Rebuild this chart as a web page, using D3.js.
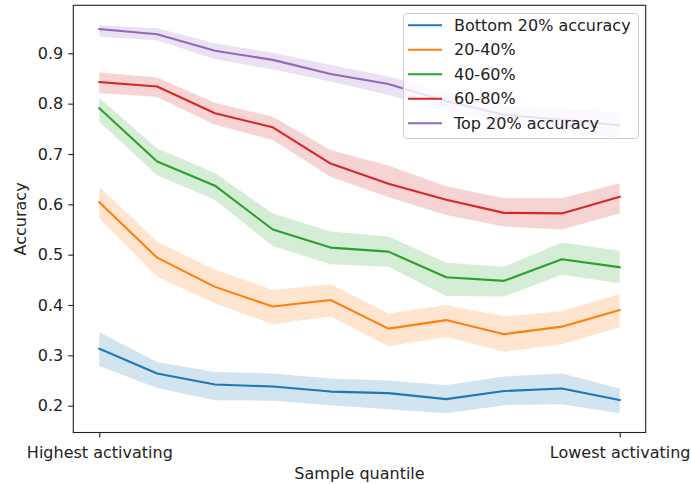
<!DOCTYPE html>
<html><head><meta charset="utf-8">
<script src="https://cdn.jsdelivr.net/npm/d3@7"></script>
<style>body{margin:0;background:#fff}text{font-family:"DejaVu Sans",sans-serif;fill:#222}</style>
</head><body>
<svg id="c" width="691" height="484"></svg>
<script>
const seriesLabels = ["Bottom 20% accuracy","20-40%","40-60%","60-80%","Top 20% accuracy"];
const colors = ["#1f77b4","#ff7f0e","#2ca02c","#d62728","#9467bd"];
const xTickLabels = ["Highest activating","Lowest activating"];
const yTicks = [0.2,0.3,0.4,0.5,0.6,0.7,0.8,0.9];

const bottomMean = [0.313,0.264,0.242,0.238,0.228,0.225,0.213,0.229,0.234,0.211];
const bottomLo   = [0.279,0.235,0.211,0.210,0.201,0.193,0.185,0.201,0.203,0.185];
const bottomHi   = [0.346,0.287,0.267,0.264,0.254,0.250,0.241,0.258,0.264,0.234];

const q2Mean = [0.604,0.494,0.436,0.397,0.410,0.353,0.370,0.342,0.357,0.390];
const q2Lo   = [0.572,0.456,0.403,0.362,0.377,0.318,0.337,0.307,0.322,0.356];
const q2Hi   = [0.635,0.526,0.470,0.430,0.441,0.383,0.400,0.377,0.388,0.422];

const q3Mean = [0.791,0.685,0.637,0.550,0.514,0.506,0.455,0.448,0.491,0.475];
const q3Lo   = [0.764,0.658,0.609,0.517,0.481,0.476,0.418,0.417,0.460,0.443];
const q3Hi   = [0.811,0.711,0.662,0.582,0.546,0.536,0.484,0.476,0.524,0.508];

const q4Mean = [0.843,0.834,0.781,0.753,0.681,0.641,0.609,0.583,0.582,0.615];
const q4Lo   = [0.821,0.813,0.758,0.728,0.655,0.614,0.579,0.556,0.550,0.582];
const q4Hi   = [0.862,0.852,0.802,0.774,0.708,0.677,0.636,0.612,0.612,0.642];

const topMean = [0.948,0.938,0.905,0.887,0.859,0.839,0.805,0.778,0.768,0.757];
const topLo   = [0.933,0.926,0.888,0.868,0.844,0.817,0.787,0.760,0.745,0.732];
const topHi   = [0.956,0.950,0.920,0.901,0.877,0.854,0.823,0.796,0.790,0.783];

const series = [
  {mean: bottomMean, lo: bottomLo, hi: bottomHi},
  {mean: q2Mean, lo: q2Lo, hi: q2Hi},
  {mean: q3Mean, lo: q3Lo, hi: q3Hi},
  {mean: q4Mean, lo: q4Lo, hi: q4Hi},
  {mean: topMean, lo: topLo, hi: topHi}
];

const L = 73.3, R = 645.7, T = 5.3, B = 432.5;
const n = bottomMean.length;
const x = d3.scaleLinear().domain([-0.45, n - 1 + 0.45]).range([L, R]);
const y = d3.scaleLinear().domain([0.1467, 0.9954]).range([B, T]);

const svg = d3.select("#c");

// bands
const area = d3.area().x((d,i)=>x(i)).y0(d=>y(d[0])).y1(d=>y(d[1]));
series.forEach((s,k)=>{
  const pts = s.lo.map((v,i)=>[v, s.hi[i]]);
  svg.append("path").attr("d", area(pts)).attr("fill", colors[k]).attr("fill-opacity", 0.2).attr("stroke","none");
});
// lines
const line = d3.line().x((d,i)=>x(i)).y(d=>y(d));
series.forEach((s,k)=>{
  svg.append("path").attr("d", line(s.mean)).attr("fill","none").attr("stroke", colors[k])
    .attr("stroke-width", 2.1).attr("stroke-linejoin","round").attr("stroke-linecap","square");
});

// axes
const yAxis = d3.axisLeft(y).tickValues(yTicks).tickFormat(d3.format(".1f")).tickSize(5).tickPadding(5);
const gy = svg.append("g").attr("transform", `translate(${L},0)`).call(yAxis);
const xAxis = d3.axisBottom(x).tickValues([0, n-1]).tickFormat((d,i)=>xTickLabels[i]).tickSize(5).tickPadding(5);
const gx = svg.append("g").attr("transform", `translate(0,${B})`).call(xAxis);
[gx, gy].forEach(g=>{
  g.select(".domain").remove();
  g.selectAll(".tick line").attr("stroke","#222").attr("stroke-width",1.1);
  g.selectAll(".tick text").style("font-size","16px").attr("fill","#222").style("font-family","DejaVu Sans");
});
gx.selectAll(".tick text").attr("dy","0.95em");

// frame
svg.append("rect").attr("x",L).attr("y",T).attr("width",R-L).attr("height",B-T)
  .attr("fill","none").attr("stroke","#222").attr("stroke-width",1.1);

// axis labels
svg.append("text").attr("x",(L+R)/2).attr("y",473).attr("text-anchor","middle")
  .attr("dominant-baseline","central").style("font-size","16px").text("Sample quantile");
svg.append("text").attr("transform",`translate(20,${(T+B)/2}) rotate(-90)`).attr("text-anchor","middle")
  .attr("dominant-baseline","central").style("font-size","16px").text("Accuracy");

// legend
const lg = svg.append("g");
lg.append("rect").attr("x",403.5).attr("y",13.5).attr("width",235).attr("height",125).attr("rx",3)
  .attr("fill","#fff").attr("fill-opacity",0.8).attr("stroke","#cccccc").attr("stroke-width",1);
seriesLabels.forEach((lab,k)=>{
  const cy = 25.3 + k*24.5;
  lg.append("line").attr("x1",408).attr("x2",442).attr("y1",cy).attr("y2",cy)
    .attr("stroke",colors[k]).attr("stroke-width",2.1);
  lg.append("text").attr("x",454).attr("y",cy).attr("dominant-baseline","central")
    .style("font-size","16px").text(lab);
});
</script>
</body></html>
